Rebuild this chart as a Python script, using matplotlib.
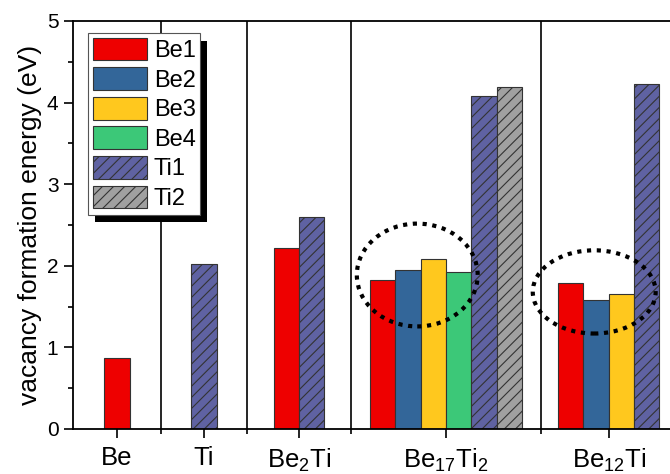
import numpy as np
import matplotlib
matplotlib.use("Agg")
import matplotlib.pyplot as plt
import matplotlib.patches as mpatches
from matplotlib.transforms import IdentityTransform

plt.rcParams['font.family'] = ['Liberation Sans', 'DejaVu Sans']
plt.rcParams['mathtext.fontset'] = 'custom'
plt.rcParams['mathtext.rm'] = 'Liberation Sans'
plt.rcParams['mathtext.it'] = 'Liberation Sans'
plt.rcParams['hatch.linewidth'] = 0.8

nan = np.nan

# data
categories = ['Be', 'Ti', 'Be$_2$Ti', 'Be$_{17}$Ti$_2$', 'Be$_{12}$Ti']
series = ['Be1', 'Be2', 'Be3', 'Be4', 'Ti1', 'Ti2']
be1 = [0.87, nan, 2.22, 1.83, 1.79]
be2 = [nan, nan, nan, 1.95, 1.58]
be3 = [nan, nan, nan, 2.08, 1.65]
be4 = [nan, nan, nan, 1.92, nan]
ti1 = [nan, 2.02, 2.60, 4.08, 4.23]
ti2 = [nan, nan, nan, 4.19, nan]
values = [be1, be2, be3, be4, ti1, ti2]

# layout (x in units of one bar width)
centers = [1.73, 5.16, 8.90, 14.69, 21.10]
separators = [3.46, 6.85, 10.94, 18.43]
colors = ['#EE0000', '#336699', '#FFC81E', '#3CC878', '#5F62A2', '#A0A0A0']
hatches = [None, None, None, None, '///', '///']

fig = plt.figure(figsize=(6.7, 4.74), dpi=100)
ax = fig.add_axes([73 / 670, 45 / 474, 622 / 670, 408 / 474])

for i, c in enumerate(centers):
    present = [j for j in range(len(series)) if not np.isnan(values[j][i])]
    n = len(present)
    for k, j in enumerate(present):
        x = c - n / 2 + 0.5 + k
        ax.bar(x, values[j][i], width=1.0, color=colors[j], edgecolor='#333333',
               linewidth=0.8, hatch=hatches[j], zorder=2)

for s in separators:
    ax.axvline(s, color='black', lw=1.2, zorder=1)

# dotted circles around the Be vacancies
for cx, cy, w, h in [(13.56, 1.887, 4.76, 1.26), (20.53, 1.68, 4.84, 1.02)]:
    ax.add_patch(mpatches.Ellipse((cx, cy), w, h, fill=False, edgecolor='black',
                                  lw=3.0, linestyle=(0, (1, 1.35)), zorder=3))

ax.set_xlim(0, 24.5)
ax.set_ylim(0, 5)
ax.set_yticks([0, 1, 2, 3, 4, 5])
ax.set_yticks(np.arange(0.5, 5, 1), minor=True)
ax.set_xticks(centers)
ax.set_xticklabels(categories, fontsize=18.5)
ax.set_xticks(separators, minor=True)
ax.tick_params(axis='y', which='major', length=6.5, width=1.2, labelsize=15, pad=4)
ax.tick_params(axis='y', which='minor', length=3.8, width=1.2)
ax.tick_params(axis='x', which='major', length=6.5, width=1.2, pad=6)
ax.tick_params(axis='x', which='minor', length=3.5, width=1.2)
for sp in ax.spines.values():
    sp.set_linewidth(1.3)
ax.set_ylabel('vacancy formation energy (eV)', fontsize=19, labelpad=3)

handles = [mpatches.Patch(facecolor=colors[j], edgecolor='#333333', linewidth=0.8,
                          hatch=hatches[j], label=series[j]) for j in range(len(series))]
leg = ax.legend(handles=handles, loc='upper left', bbox_to_anchor=(88 / 670, 1 - 33 / 474),
                bbox_transform=fig.transFigure, borderaxespad=0, fontsize=17,
                fancybox=False, edgecolor='#555555', framealpha=1,
                handlelength=2.3, handleheight=1.1, labelspacing=0.22,
                handletextpad=0.28, borderpad=0.2)
leg.get_frame().set_linewidth(0.8)
leg.set_zorder(5)

fig.canvas.draw()
bb = leg.get_window_extent()
shadow = mpatches.Rectangle((bb.x0 + 7, bb.y0 - 7.5), bb.width, bb.height,
                            transform=IdentityTransform(), facecolor='black',
                            edgecolor='none', zorder=4.9, clip_on=False)
ax.add_patch(shadow)

fig.savefig('out.png', dpi=100)
